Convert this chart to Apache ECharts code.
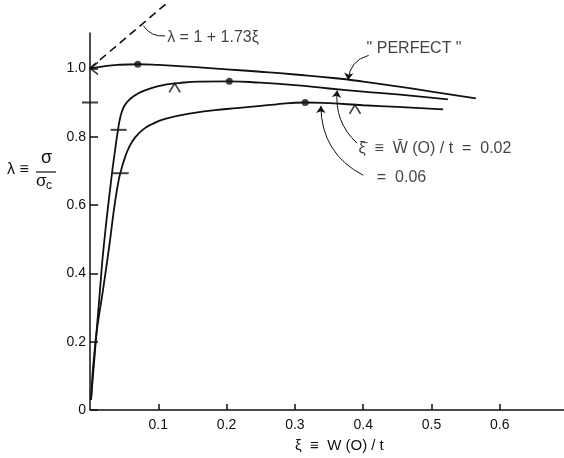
<!DOCTYPE html>
<html>
<head>
<meta charset="utf-8">
<script src="https://cdn.jsdelivr.net/npm/echarts@6/dist/echarts.min.js"></script>
<style>
  html, body { margin: 0; padding: 0; background: #fff; }
  #chart { width: 564px; height: 458px; }
</style>
</head>
<body>
<div id="chart"></div>
<script>
// curves: [xi, lambda]
const perfect = [[0, 1.0], [0.02, 1.006], [0.04, 1.01], [0.07, 1.012], [0.1, 1.01], [0.15, 1.004],
  [0.2, 0.997], [0.25, 0.99], [0.3, 0.982], [0.36, 0.971], [0.4, 0.961], [0.45, 0.947],
  [0.5, 0.932], [0.565, 0.912]]
const imp002 = [[0.0015, 0.03], [0.0146, 0.351], [0.02, 0.477], [0.031, 0.673], [0.036, 0.75],
  [0.041, 0.82], [0.045, 0.862], [0.05, 0.889], [0.056, 0.905], [0.064, 0.918], [0.075, 0.931],
  [0.091, 0.943], [0.11, 0.952], [0.13, 0.957], [0.16, 0.961], [0.204, 0.962], [0.25, 0.958],
  [0.3, 0.951], [0.35, 0.941], [0.4, 0.932], [0.45, 0.924], [0.524, 0.909]]
const imp006 = [[0.0015, 0.03], [0.008, 0.2], [0.019, 0.351], [0.028, 0.477], [0.036, 0.6],
  [0.042, 0.673], [0.046, 0.705], [0.051, 0.738], [0.057, 0.768], [0.065, 0.795], [0.077, 0.82],
  [0.091, 0.837], [0.11, 0.852], [0.15, 0.869], [0.2, 0.881], [0.234, 0.887], [0.27, 0.894],
  [0.315, 0.9], [0.35, 0.898], [0.4, 0.892], [0.45, 0.887], [0.517, 0.88]]
const tangent = [[0, 1.0], [0.115, 1.195]]
const yAxisLine = [[0, 0], [0, 1.105]]

// markers on the curves
const dots = [[0.07, 1.012], [0.204, 0.962], [0.315, 0.9]]
const bars = [[0, 0.9], [0.042, 0.82], [0.045, 0.693]]
const carets = [[0.124, 0.956], [0.388, 0.893]]

// leader lines [from, to]
const leaders = [
  [[0.408, 1.038], [0.378, 0.966]],
  [[0.391, 0.781], [0.362, 0.935]],
  [[0.400, 0.687], [0.338, 0.89]]
]
const leaderBend = [-0.35, 0.25, 0.3]
const tangentLeader = [[0.078, 1.125], [0.11, 1.095]]

// notes: [xi, lambda, text]
const notes = [
  [0.113, 1.09, 'λ = 1 + 1.73ξ'],
  [0.405, 1.058, '" PERFECT "'],
  [0.393, 0.766, 'ξ̄  ≡  W̄ (O) / t  =  0.02'],
  [0.42, 0.681, '=  0.06']
]

const xTicks = [0.1, 0.2, 0.3, 0.4, 0.5, 0.6]
const yTicks = [0, 0.2, 0.4, 0.6, 0.8, 1.0]

const ink = '#111'
const numFont = '"Liberation Sans Narrow", "Liberation Sans", sans-serif'
const txtFont = '"Liberation Sans", Arial, sans-serif'

let chart = echarts.init(document.getElementById('chart'))

function curve(name, data) {
  return {
    name: name, type: 'line', data: data, smooth: 0.5, symbol: 'none',
    lineStyle: { color: ink, width: 1.8 }, silent: true, z: 3
  }
}

let option = {
  animation: false,
  backgroundColor: '#fff',
  grid: { left: 90, right: 0, top: 0, bottom: 48 },
  xAxis: {
    type: 'value', min: 0, max: 0.694, interval: 0.1,
    splitLine: { show: false },
    axisLine: { lineStyle: { color: ink, width: 1.5 } },
    axisTick: { inside: true, length: 6, customValues: xTicks, lineStyle: { color: ink, width: 1.5 } },
    axisLabel: { customValues: xTicks, color: ink, fontFamily: numFont, fontSize: 14, margin: 8,
      formatter: v => v.toFixed(1) }
  },
  yAxis: {
    type: 'value', min: 0, max: 1.2, interval: 0.2,
    splitLine: { show: false },
    axisLine: { show: false },
    axisTick: { inside: true, length: 8, customValues: yTicks, lineStyle: { color: ink, width: 1.5 } },
    axisLabel: { customValues: yTicks, color: ink, fontFamily: numFont, fontSize: 14, margin: 4,
      formatter: v => v === 0 ? '0' : v.toFixed(1) }
  },
  graphic: [
    { type: 'text', left: 7, top: 162, style: { text: 'λ ≡', font: '16px ' + txtFont, fill: ink } },
    { type: 'text', left: 41, top: 149, style: { text: 'σ', font: '18px ' + txtFont, fill: ink } },
    { type: 'line', shape: { x1: 36, y1: 172, x2: 56, y2: 172 }, style: { stroke: ink, lineWidth: 1.2 } },
    { type: 'text', left: 36, top: 173, style: { text: 'σ', font: '17px ' + txtFont, fill: ink } },
    { type: 'text', left: 46, top: 180, style: { text: 'c', font: '12px ' + txtFont, fill: ink } },
    { type: 'text', left: 295, top: 438, style: { text: 'ξ  ≡  W (O) / t', font: '15px ' + txtFont, fill: ink } }
  ],
  series: [
    curve('perfect', perfect),
    curve('0.02', imp002),
    curve('0.06', imp006),
    {
      name: 'axis', type: 'line', data: yAxisLine, symbol: 'none', silent: true,
      lineStyle: { color: ink, width: 1.5 }
    },
    {
      name: 'tangent', type: 'line', data: tangent, symbol: 'none', silent: true,
      lineStyle: { color: ink, width: 1.6, type: [8, 5] }
    },
    {
      name: 'dots', type: 'scatter', data: dots, symbol: 'circle', symbolSize: 7,
      itemStyle: { color: ink }, silent: true, z: 5
    },
    {
      name: 'bars', type: 'scatter', data: bars, symbol: 'rect', symbolSize: [16, 2],
      itemStyle: { color: ink }, silent: true, z: 5
    },
    {
      name: 'carets', type: 'scatter', data: carets, symbol: 'path://M0,10 L5,0 L10,10',
      symbolSize: [11, 9], symbolOffset: [0, '50%'],
      itemStyle: { color: 'rgba(0,0,0,0)', borderColor: ink, borderWidth: 1.5 }, silent: true, z: 5
    },
    {
      name: 'arrowhead', type: 'scatter', data: [[0, 1.0]], symbol: 'path://M10,0 L0,5 L10,10',
      symbolSize: [8, 12], symbolOffset: ['50%', 0],
      itemStyle: { color: 'rgba(0,0,0,0)', borderColor: ink, borderWidth: 1.5 }, silent: true, z: 5
    },
    {
      name: 'leaders', type: 'lines', coordinateSystem: 'cartesian2d', silent: true,
      symbol: ['none', 'arrow'], symbolSize: 7,
      lineStyle: { color: ink, width: 1, opacity: 1 },
      data: leaders.map((d, i) => ({ coords: d, lineStyle: { curveness: leaderBend[i] } }))
    },
    {
      name: 'tangentLeader', type: 'lines', coordinateSystem: 'cartesian2d', silent: true,
      symbol: ['none', 'none'],
      lineStyle: { color: ink, width: 1, curveness: -0.3, opacity: 1 },
      data: [{ coords: tangentLeader }]
    },
    {
      name: 'notes', type: 'scatter', symbolSize: 0, silent: true,
      data: notes.map(n => ({ value: [n[0], n[1]], name: n[2] })),
      label: {
        show: true, position: 'right', distance: 0, formatter: p => p.name,
        color: ink, fontFamily: txtFont, fontSize: 16
      }
    }
  ]
}
chart.setOption(option)
</script>
</body>
</html>
